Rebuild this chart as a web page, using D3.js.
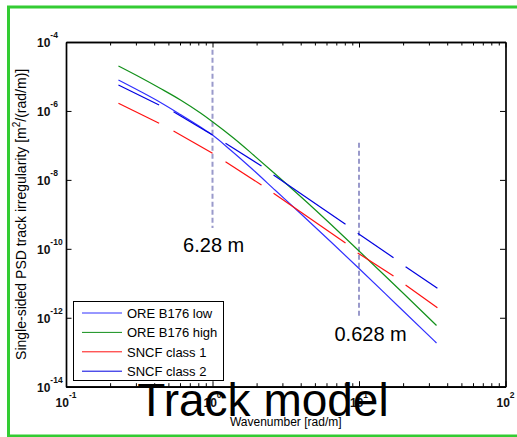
<!DOCTYPE html>
<html><head><meta charset="utf-8">
<script src="https://cdn.jsdelivr.net/npm/d3@7"></script>
<style>
body{margin:0;background:#fff;}
svg{display:block;font-family:Arial,"Liberation Sans",Helvetica,sans-serif;}
</style>
</head><body>
<svg id="c" width="517" height="437"></svg>
<script>
// ---------- data ----------
const xTickValues = [0.1, 1, 10, 100];
const xTickExp = ["-1", "0", "1", "2"];
const yTickValues = [1e-14, 1e-12, 1e-10, 1e-8, 1e-6, 1e-4];
const yTickExp = ["-14", "-12", "-10", "-8", "-6", "-4"];

const seriesNames = ["ORE B176 low", "ORE B176 high", "SNCF class 1", "SNCF class 2"];
const seriesColors = ["#3030ff", "#12901a", "#ff1010", "#0000e0"];

// ORE B176 low (continuous)
const oreLowK   = [0.228, 0.3225, 0.4416, 0.6046, 0.828, 1.0, 1.327, 1.817, 2.692, 3.988, 6.391, 9.922, 18.32, 33.81];
const oreLowPsd = [7.9e-6, 3.66e-6, 1.76e-6, 7.88e-7, 3.42e-7, 2.0e-7, 7.36e-8, 2.29e-8, 4.92e-9, 1.06e-9, 1.63e-10, 2.78e-11, 2.27e-12, 1.85e-13];

// ORE B176 high (continuous)
const oreHighK   = [0.228, 0.3225, 0.4416, 0.6046, 0.828, 1.0, 1.391, 1.905, 2.609, 3.407, 4.666, 6.391, 9.922, 14.02, 20.13, 33.81];
const oreHighPsd = [2.01e-5, 9.33e-6, 4.48e-6, 2.08e-6, 8.71e-7, 4.87e-7, 1.64e-7, 5.27e-8, 1.64e-8, 6.01e-9, 1.81e-9, 5.25e-10, 8.93e-11, 2.2e-11, 5.06e-12, 5.96e-13];

// SNCF curves are drawn in segments (start/end wavenumber of each piece)
const sncfSegK = [[0.228, 0.432], [0.542, 1.0], [1.227, 2.16], [2.61, 8.09], [9.8, 17.2], [20.8, 34.3]];
const sncf1Psd = [[1.68e-6, 4.4e-7], [2.62e-7, 5.9e-8], [3.37e-8, 7.1e-9], [4.08e-9, 1.48e-10], [7.6e-11, 1.63e-11], [8.91e-12, 1.96e-12]];
const sncf2Psd = [[5.66e-6, 1.49e-6], [9.5e-7, 2.0e-7], [1.15e-7, 2.53e-8], [1.39e-8, 5.14e-10], [2.85e-10, 5.52e-11], [3.03e-11, 7.16e-12]];

// vertical reference lines (wavelength markers)
const markerK = [1.0, 10.0];
const markerLow = [4.0e-10, 1.0e-12];
const markerHigh = [6.0e-5, 1.2e-7];
const markerLabels = ["6.28 m", "0.628 m"];
const markerLabelK = [0.63, 6.8];
const markerLabelPsd = [1.12e-10, 3.0e-13];

// ---------- drawing ----------
const svg = d3.select("#c");
const x = d3.scaleLog().domain([0.1, 100]).range([66, 505.5]);
const y = d3.scaleLog().domain([1e-14, 1e-4]).range([386.7, 42]);

// green frame
svg.append("rect").attr("x", 8.5).attr("y", 7).attr("width", 520).attr("height", 429)
  .attr("fill", "none").attr("stroke", "#33cc33").attr("stroke-width", 3);

// plot background
svg.append("rect").attr("x", x(0.1)).attr("y", y(1e-4))
  .attr("width", x(100) - x(0.1)).attr("height", y(1e-14) - y(1e-4)).attr("fill", "#fff");

// minor ticks on x
const xMinor = [];
for (let d = -1; d < 2; d++) for (let m = 2; m <= 9; m++) xMinor.push(m * Math.pow(10, d));

const axisG = svg.append("g");
axisG.append("g").attr("transform", `translate(0,${y(1e-14)})`)
  .call(d3.axisBottom(x).tickValues(xMinor).tickSizeInner(-3.5).tickSizeOuter(0).tickFormat(""));
axisG.append("g").attr("transform", `translate(0,${y(1e-14)})`)
  .call(d3.axisBottom(x).tickValues(xTickValues).tickSizeInner(-5.5).tickSizeOuter(0).tickFormat(""));
axisG.append("g").attr("transform", `translate(0,${y(1e-4)})`)
  .call(d3.axisTop(x).tickValues(xMinor).tickSizeInner(-3.5).tickSizeOuter(0).tickFormat(""));
axisG.append("g").attr("transform", `translate(0,${y(1e-4)})`)
  .call(d3.axisTop(x).tickValues(xTickValues).tickSizeInner(-5.5).tickSizeOuter(0).tickFormat(""));
axisG.append("g").attr("transform", `translate(${x(0.1)},0)`)
  .call(d3.axisLeft(y).tickValues(yTickValues).tickSizeInner(-5.5).tickSizeOuter(0).tickFormat(""));
axisG.append("g").attr("transform", `translate(${x(100)},0)`)
  .call(d3.axisRight(y).tickValues(yTickValues).tickSizeInner(-5.5).tickSizeOuter(0).tickFormat(""));
axisG.selectAll(".domain").attr("stroke", "#000").attr("stroke-width", 1.7);
axisG.selectAll(".tick line").attr("stroke", "#000").attr("stroke-width", 1);

// tick labels
xTickValues.forEach((v, i) => {
  const t = svg.append("text").attr("x", x(v)).attr("y", 407).attr("text-anchor", "middle")
    .attr("font-size", 12).attr("font-weight", "bold").attr("fill", "#111");
  t.append("tspan").text("10");
  t.append("tspan").attr("dy", -9).attr("font-size", 8.5).text(xTickExp[i]);
});
yTickValues.forEach((v, i) => {
  const t = svg.append("text").attr("x", 37).attr("y", y(v) + 5).attr("text-anchor", "start")
    .attr("font-size", 12).attr("font-weight", "bold").attr("fill", "#111");
  t.append("tspan").text("10");
  t.append("tspan").attr("dy", -9).attr("font-size", 8.5).text(yTickExp[i]);
});

// axis labels
svg.append("text").attr("x", (x(0.1) + x(100)) / 2).attr("y", 426).attr("text-anchor", "middle")
  .attr("font-size", 12).text("Wavenumber [rad/m]");
const yl = svg.append("text").attr("transform", `translate(26,${(y(1e-4) + y(1e-14)) / 2}) rotate(-90)`)
  .attr("text-anchor", "middle").attr("font-size", 14);
yl.append("tspan").text("Single-sided PSD track irregularity [m");
yl.append("tspan").attr("dy", -6).attr("font-size", 10).text("2");
yl.append("tspan").attr("dy", 6).text("/(rad/m)]");

// marker lines
markerK.forEach((k, i) => {
  svg.append("line").attr("x1", x(k)).attr("x2", x(k)).attr("y1", y(markerHigh[i])).attr("y2", y(markerLow[i]))
    .attr("stroke", "#9a9acb").attr("stroke-width", 2).attr("stroke-dasharray", "5,3");
  svg.append("text").attr("x", x(markerLabelK[i])).attr("y", y(markerLabelPsd[i]))
    .attr("dominant-baseline", "middle").attr("font-size", 20).attr("fill", "#000").text(markerLabels[i]);
});

// series
const lineGen = d3.line().x(d => x(d[0])).y(d => y(d[1])).curve(d3.curveMonotoneX);
const lines = svg.append("g").attr("fill", "none").attr("stroke-width", 1.2);
lines.append("path").attr("d", lineGen(d3.zip(oreLowK, oreLowPsd))).attr("stroke", seriesColors[0]);
lines.append("path").attr("d", lineGen(d3.zip(oreHighK, oreHighPsd))).attr("stroke", seriesColors[1]);
sncfSegK.forEach((seg, i) => {
  lines.append("path").attr("d", lineGen(d3.zip(seg, sncf1Psd[i]))).attr("stroke", seriesColors[2]);
  lines.append("path").attr("d", lineGen(d3.zip(seg, sncf2Psd[i]))).attr("stroke", seriesColors[3]);
});

// legend
const lg = svg.append("g");
lg.append("rect").attr("x", 73.5).attr("y", 301.5).attr("width", 150).attr("height", 79)
  .attr("fill", "#fff").attr("stroke", "#000").attr("stroke-width", 1);
seriesNames.forEach((n, i) => {
  const yy = 313 + i * 19.4;
  lg.append("line").attr("x1", 82).attr("x2", 122).attr("y1", yy).attr("y2", yy)
    .attr("stroke", seriesColors[i]).attr("stroke-width", 1);
  lg.append("text").attr("x", 127).attr("y", yy + 4.7).attr("font-size", 13).attr("fill", "#000").text(n);
});

// big title text
svg.append("text").attr("x", 263).attr("y", 416).attr("text-anchor", "middle")
  .attr("font-size", 46).attr("fill", "#000").text("Track model");
</script>
</body></html>
